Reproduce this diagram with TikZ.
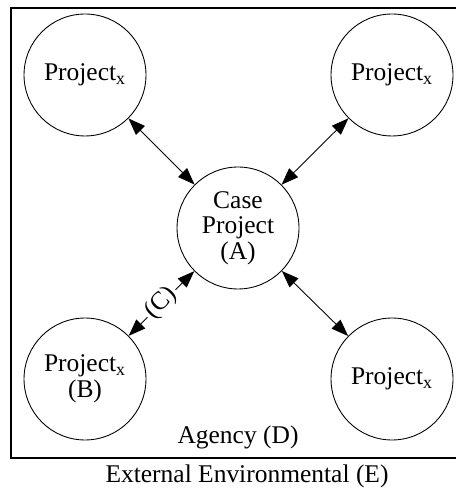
\documentclass[tikz,border=0pt]{standalone}
\usepackage{fontspec}
\setmainfont{Liberation Serif}
\usetikzlibrary{arrows.meta, positioning}

\begin{document}
\begin{tikzpicture}[x=0.02cm, y=-0.02cm,
    proj/.style={draw, circle, minimum size=2.44cm, inner sep=0pt, align=center,
        line width=0.5pt, font=\fontsize{14.5}{14.5}\selectfont},
    link/.style={{Triangle[length=0.34cm, width=0.25cm]}-{Triangle[length=0.34cm, width=0.25cm]},
        line width=0.5pt},
    lbl/.style={font=\fontsize{14.5}{14.5}\selectfont}
]
        \useasboundingbox (0,0) rectangle (455,492);

        % 1. Agency frame (right side runs off the page)
        \draw[line width=1.1pt] (11,8) rectangle (484,458);

        % 2. Project circles
        \node[proj] (case) at (238,228) {Case\\Project\\(A)};
        \node[proj] (tl) at (85,75) {Project\textsubscript{x}};
        \node[proj] (tr) at (392,75) {Project\textsubscript{x}};
        \node[proj] (bl) at (85,379) {Project\textsubscript{x}\\(B)};
        \node[proj] (br) at (392,379) {Project\textsubscript{x}};

        % 3. Links to the case project
        \draw[link] (tl) -- (case);
        \draw[link] (tr) -- (case);
        \draw[link] (br) -- (case);
        \draw[link] (bl) -- node[lbl, sloped, fill=white, inner sep=1.5pt] (c) {(C)} (case);

        % 4. Frame labels
        \node[lbl] (agency) at (238,437) {Agency (D)};
        \node[lbl] (extern) at (247,476) {External Environmental (E)};
\end{tikzpicture}
\end{document}
